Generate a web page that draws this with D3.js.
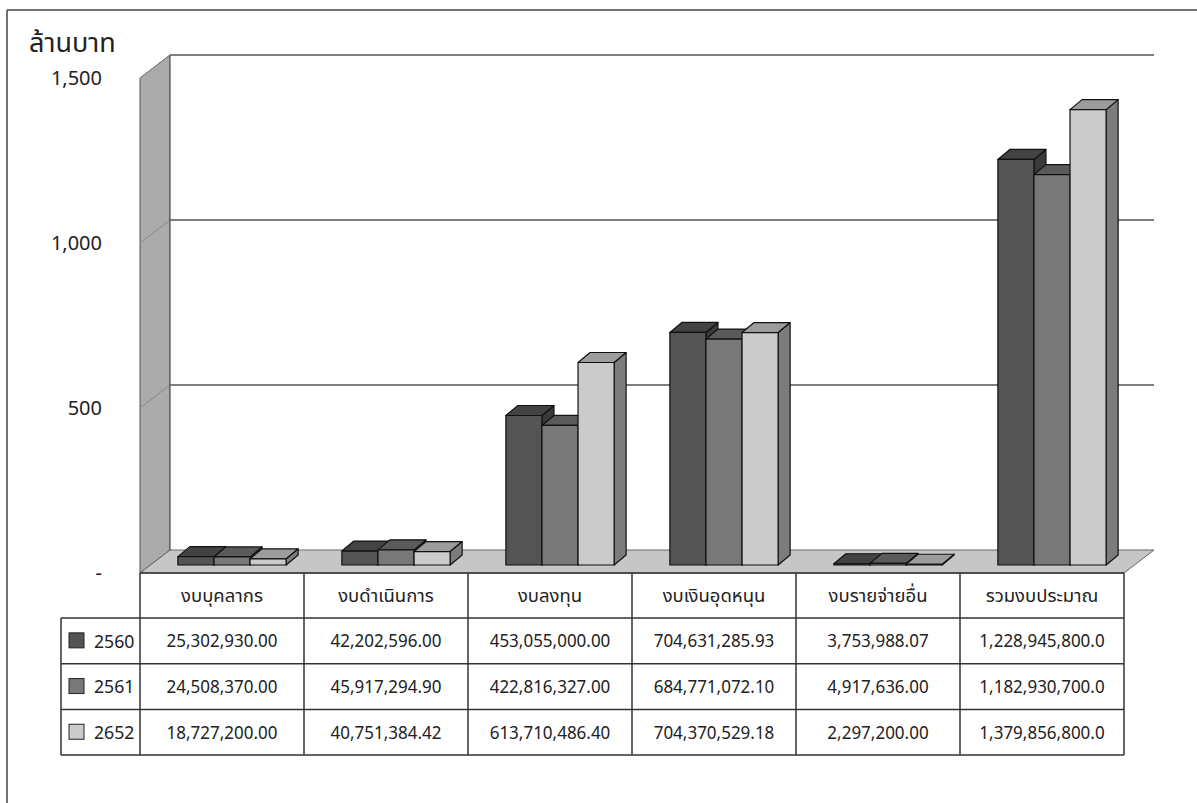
<!DOCTYPE html>
<html><head><meta charset="utf-8">
<script src="https://cdn.jsdelivr.net/npm/d3@7"></script>
<style>
html,body{margin:0;padding:0;background:#fff;}
svg text{font-family:Tahoma,"Noto Sans Thai","Leelawadee UI","Noto Sans","DejaVu Sans",sans-serif;fill:#222;}
</style></head>
<body><svg id="c" width="1197" height="803"></svg>
<script>
const categories = ["งบบุคลากร","งบดำเนินการ","งบลงทุน","งบเงินอุดหนุน","งบรายจ่ายอื่น","รวมงบประมาณ"];
const years = ["2560","2561","2652"];
const values2560 = [25302930.00, 42202596.00, 453055000.00, 704631285.93, 3753988.07, 1228945800.0];
const values2561 = [24508370.00, 45917294.90, 422816327.00, 684771072.10, 4917636.00, 1182930700.0];
const values2652 = [18727200.00, 40751384.42, 613710486.40, 704370529.18, 2297200.00, 1379856800.0];
const yTicks = [0, 500, 1000, 1500];
const yTitle = "ล้านบาท";

const series = [values2560, values2561, values2652];
const frontCol = ["#545454", "#787878", "#cbcbcb"];
const topCol   = ["#434343", "#5a5a5a", "#9c9c9c"];
const sideCol  = ["#3a3a3a", "#5a5a5a", "#7c7c7c"];

const svg = d3.select("#c");
// outer frame
svg.append("line").attr("x1",7).attr("y1",10).attr("x2",1197).attr("y2",10).attr("stroke","#444").attr("stroke-width",1.5);
svg.append("line").attr("x1",7).attr("y1",10).attr("x2",7).attr("y2",803).attr("stroke","#444").attr("stroke-width",1.5);

const x = d3.scaleBand().domain(categories).range([140, 1124]);
const y = d3.scaleLinear().domain([0, 1500]).range([573, 78]);
const DX = 30, DY = -23;   // wall depth
const BZX = 10, BZY = -8;  // bar front offset
const BDX = 12, BDY = -10; // bar depth
const groupW = x.bandwidth() * 0.66;
const sub = d3.scaleBand().domain(years).range([(x.bandwidth()-groupW)/2, (x.bandwidth()+groupW)/2]);

const x0 = x.range()[0], x1 = x.range()[1];
const poly = pts => pts.map(p => p.join(",")).join(" ");

// side wall
svg.append("polygon").attr("points", poly([[x0,y(1500)],[x0+DX,y(1500)+DY],[x0+DX,y(0)+DY],[x0,y(0)]]))
  .attr("fill","#ababab").attr("stroke","#555").attr("stroke-width",1);
// back wall
svg.append("rect").attr("x",x0+DX).attr("y",y(1500)+DY).attr("width",x1-x0).attr("height",y(0)-y(1500))
  .attr("fill","#fff");
// floor
svg.append("polygon").attr("points", poly([[x0,y(0)],[x0+DX,y(0)+DY],[x1+DX,y(0)+DY],[x1,y(0)]]))
  .attr("fill","#c6c6c6").attr("stroke","#666").attr("stroke-width",1);
// gridlines
yTicks.filter(t => t > 0).forEach(t => {
  svg.append("line").attr("x1",x0+DX).attr("x2",x1+DX).attr("y1",y(t)+DY).attr("y2",y(t)+DY)
    .attr("stroke","#555").attr("stroke-width",1.5);
  svg.append("line").attr("x1",x0).attr("x2",x0+DX).attr("y1",y(t)).attr("y2",y(t)+DY)
    .attr("stroke","#8a8a8a").attr("stroke-width",1);
});
svg.append("line").attr("x1",x0+DX).attr("x2",x0+DX).attr("y1",y(1500)+DY).attr("y2",y(0)+DY)
  .attr("stroke","#555").attr("stroke-width",1.2);

// y tick labels
svg.append("g").selectAll("text").data(yTicks).join("text")
  .attr("x",102).attr("y",d => y(d)).attr("dy","0.35em").attr("text-anchor","end")
  .attr("font-size",20).text(d => d === 0 ? "-" : d3.format(",")(d));
svg.append("text").attr("x",29).attr("y",52).attr("font-size",27).text(yTitle);

// bars
const bars = svg.append("g");
categories.forEach((c, ci) => {
  years.forEach((yr, si) => {
    const v = series[si][ci] / 1e6;
    const bx = x(c) + sub(yr) + BZX;
    const bw = sub.bandwidth();
    const yb = y(0) + BZY, yt = y(v) + BZY;
    const g = bars.append("g").attr("stroke","#111").attr("stroke-width",1.2).attr("stroke-linejoin","round");
    g.append("polygon").attr("points", poly([[bx+bw,yt],[bx+bw+BDX,yt+BDY],[bx+bw+BDX,yb+BDY],[bx+bw,yb]])).attr("fill",sideCol[si]);
    g.append("polygon").attr("points", poly([[bx,yt],[bx+BDX,yt+BDY],[bx+bw+BDX,yt+BDY],[bx+bw,yt]])).attr("fill",topCol[si]);
    g.append("rect").attr("x",bx).attr("y",yt).attr("width",bw).attr("height",Math.max(0,yb-yt)).attr("fill",frontCol[si]);
  });
});

// data table
const tTop = 573, hH = 45, rH = 45.7, legL = 61;
const tbl = svg.append("g").attr("stroke","#333").attr("stroke-width",1.5);
const tBottom = tTop + hH + rH*3;
tbl.append("line").attr("x1",x0).attr("x2",x1).attr("y1",tTop).attr("y2",tTop);
for (let r = 0; r <= 3; r++) {
  tbl.append("line").attr("x1",legL).attr("x2",x1).attr("y1",tTop+hH+r*rH).attr("y2",tTop+hH+r*rH);
}
tbl.append("line").attr("x1",legL).attr("x2",legL).attr("y1",tTop+hH).attr("y2",tBottom);
categories.forEach(c => {
  tbl.append("line").attr("x1",x(c)).attr("x2",x(c)).attr("y1",tTop).attr("y2",tBottom);
});
tbl.append("line").attr("x1",x1).attr("x2",x1).attr("y1",tTop).attr("y2",tBottom);

svg.append("g").selectAll("text").data(categories).join("text")
  .attr("transform",d => `translate(${x(d)+x.bandwidth()/2},${tTop+hH/2})`).attr("dy","0.35em")
  .attr("text-anchor","middle").attr("font-size",18.5).text(d => d);

years.forEach((yr, si) => {
  const ry = tTop + hH + si*rH + rH/2;
  svg.append("rect").attr("x",69).attr("y",ry-8).attr("width",15).attr("height",15)
    .attr("fill",frontCol[si]).attr("stroke","#222").attr("stroke-width",1);
  svg.append("text").attr("transform",`translate(94,${ry}) scale(0.93,1)`).attr("dy","0.35em").attr("font-size",19).text(yr);
  categories.forEach((c, ci) => {
    const f = ci === 5 ? d3.format(",.1f") : d3.format(",.2f");
    svg.append("text").attr("transform",`translate(${x(c)+x.bandwidth()/2},${ry}) scale(0.92,1)`).attr("dy","0.35em")
      .attr("text-anchor","middle").attr("font-size",18.5).text(f(series[si][ci]));
  });
});
</script></body></html>
